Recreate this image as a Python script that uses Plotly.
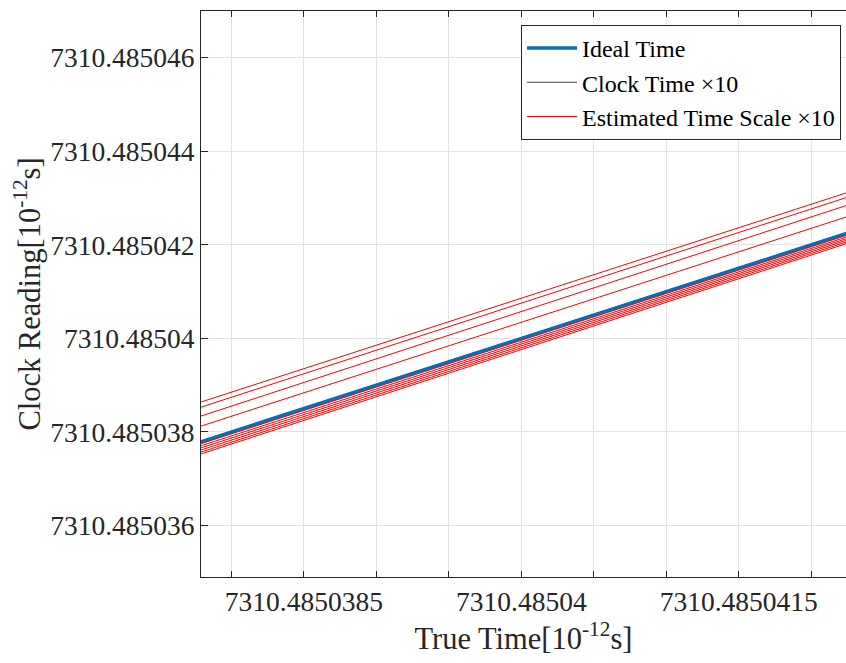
import plotly.graph_objects as go

# ---- data (values in units of 1e-12 s) ----
true_time = [7310.4850377, 7310.4850423]
ideal_time = [7310.4850377, 7310.4850423]

# ten clock-time runs (hidden beneath the ideal line)
clock_runs = [
    [7310.48503768, 7310.48504228],
    [7310.485037685, 7310.485042285],
    [7310.48503769, 7310.48504229],
    [7310.485037695, 7310.485042295],
    [7310.4850377, 7310.4850423],
    [7310.485037702, 7310.485042302],
    [7310.485037706, 7310.485042306],
    [7310.48503771, 7310.48504231],
    [7310.485037714, 7310.485042314],
    [7310.485037718, 7310.485042318],
]

# ten estimated time-scale runs
est_runs = [
    [7310.48503855, 7310.48504317],
    [7310.48503844, 7310.48504307],
    [7310.48503825, 7310.4850429],
    [7310.485038035, 7310.485042655],
    [7310.48503766, 7310.48504226],
    [7310.485037615, 7310.485042225],
    [7310.48503757, 7310.48504219],
    [7310.485037525, 7310.485042155],
    [7310.48503748, 7310.48504212],
    [7310.48503744, 7310.485042085],
]

x_tickvals = [7310.4850385, 7310.48504, 7310.4850415]
x_ticktext = ["7310.4850385", "7310.48504", "7310.4850415"]
x_minorvals = [7310.485038, 7310.4850385, 7310.485039, 7310.4850395, 7310.48504,
               7310.4850405, 7310.485041, 7310.4850415, 7310.485042]
y_tickvals = [7310.485036, 7310.485038, 7310.48504, 7310.485042, 7310.485044, 7310.485046]
y_ticktext = ["7310.485036", "7310.485038", "7310.48504", "7310.485042", "7310.485044", "7310.485046"]
x_range = [7310.48503779, 7310.48504224]
y_range = [7310.4850349, 7310.485047]

FONT = "Liberation Serif, Times New Roman, serif"
AX = "#262626"
GRID = "#e3e3e3"

fig = go.Figure()

for i, run in enumerate(clock_runs):
    fig.add_trace(go.Scatter(
        x=true_time, y=run, mode="lines",
        line=dict(color="#404040", width=1),
        name="Clock Time ×10", legendgroup="clock", showlegend=(i == 0),
        legendrank=2,
    ))

fig.add_trace(go.Scatter(
    x=true_time, y=ideal_time, mode="lines",
    line=dict(color="#0072BD", width=3.5),
    name="Ideal Time", legendrank=1,
))

for i, run in enumerate(est_runs):
    fig.add_trace(go.Scatter(
        x=true_time, y=run, mode="lines",
        line=dict(color="#FF0000", width=1),
        name="Estimated Time Scale ×10", legendgroup="est", showlegend=(i == 0),
        legendrank=3,
    ))

fig.update_layout(
    width=846, height=663,
    margin=dict(l=201, r=0, t=11, b=86),
    plot_bgcolor="white", paper_bgcolor="white",
    font=dict(family=FONT, color=AX),
    showlegend=True,
    legend=dict(
        x=0.9922, y=0.9753, xanchor="right", yanchor="top",
        bgcolor="white", bordercolor=AX, borderwidth=1,
        font=dict(family=FONT, size=24, color="#000000"),
        tracegroupgap=0, itemwidth=50,
    ),
    xaxis=dict(
        range=x_range, tickmode="array", tickvals=x_tickvals, ticktext=x_ticktext,
        showgrid=True, gridcolor=GRID, gridwidth=1,
        showline=True, linecolor=AX, linewidth=1, mirror="ticks",
        ticks="inside", ticklen=6, tickcolor=AX, tickwidth=1,
        minor=dict(tickvals=x_minorvals, ticks="inside", ticklen=6, tickcolor=AX,
                   tickwidth=1, showgrid=True, gridcolor=GRID, gridwidth=1),
        tickfont=dict(family=FONT, size=27.5, color=AX),
        zeroline=False,
        title=dict(text="True Time[10<sup>-12</sup>s]", font=dict(family=FONT, size=30.5, color=AX), standoff=6),
    ),
    yaxis=dict(
        range=y_range, tickmode="array", tickvals=y_tickvals, ticktext=y_ticktext,
        showgrid=True, gridcolor=GRID, gridwidth=1,
        showline=True, linecolor=AX, linewidth=1, mirror=False,
        ticks="inside", ticklen=7, tickcolor=AX, tickwidth=1,
        tickfont=dict(family=FONT, size=27.5, color=AX),
        zeroline=False,
        title=dict(text="Clock Reading[10<sup>-12</sup>s]\u00a0\u00a0\u00a0",
                   font=dict(family=FONT, size=30.5, color=AX), standoff=0),
    ),
)

fig.write_html("out.html")
